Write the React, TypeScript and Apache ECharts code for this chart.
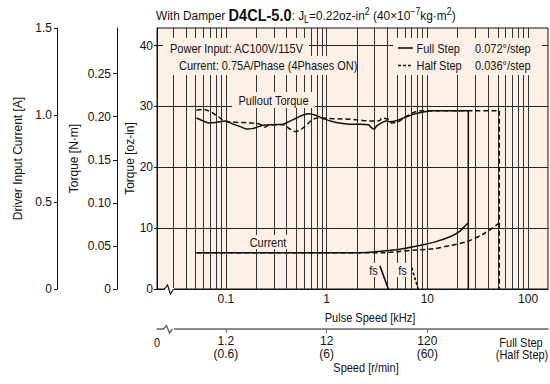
import React, { useEffect, useRef } from 'react';
import * as echarts from 'echarts';

const FONT = "'Liberation Sans', Arial, Helvetica, sans-serif";
const FS = 12; // axis texts
const GFS = 12.5; // annotation texts (condensed with SX)
const SX = 0.88;
const BG = '#fdf1e7';
const INK = '#111';

// ---- axes ----
const X_MIN = 0.0207; // kHz at the left frame (break region)
const X_MAX = 157.7; // kHz at the right frame
const OZIN_MAX = 42.9;
const OZIN_PER_NM = 141.612;
const ozinTicks = [0, 10, 20, 30, 40];
const nmTicks = [0, 0.05, 0.1, 0.15, 0.2, 0.25];
const currentTicks = [0, 0.5, 1.0, 1.5];
const pulseTicks = [0.1, 1, 10, 100];
const speedTickFreq = [0.1, 1, 10];
const speedFullLabels = ['1.2', '12', '120'];
const speedHalfLabels = ['(0.6)', '(6)', '(60)'];
const gridFreqs = [
  0.03, 0.04, 0.05, 0.06, 0.07, 0.08, 0.09,
  0.1, 0.2, 0.3, 0.4, 0.5, 0.6, 0.7, 0.8, 0.9,
  1, 2, 3, 4, 5, 6, 7, 8, 9,
  10, 20, 30, 40, 50, 60, 70, 80, 90,
  100,
];

// ---- pullout torque, full step (solid) [kHz, oz-in] ----
const fullFreq = [0.051, 0.06, 0.069, 0.081, 0.098, 0.118, 0.143, 0.16, 0.187, 0.235, 0.295, 0.371, 0.432, 0.503, 0.586, 0.672, 0.795, 0.926, 1.16, 1.46, 1.7, 2.14, 2.59, 2.8, 2.95, 3.14, 3.52, 3.94, 4.25, 4.77, 5.77, 7.25, 9.11, 11.5, 16.8, 25.5];
const fullTorque = [28.1, 27.6, 27.3, 27.4, 27.6, 27.1, 26.6, 26.3, 26.4, 26.9, 27.0, 27.1, 27.6, 28.1, 28.6, 28.8, 28.5, 28.0, 27.5, 27.2, 27.1, 27.1, 27.0, 26.5, 26.3, 26.8, 27.3, 27.6, 27.5, 27.6, 28.1, 28.7, 29.1, 29.3, 29.3, 29.3];
const fullDropFreq = [25.5, 25.5];
const fullDropTorque = [29.3, 0];

// ---- pullout torque, half step (dashed) ----
const halfFreq = [0.051, 0.06, 0.069, 0.081, 0.098, 0.128, 0.173, 0.218, 0.244, 0.274, 0.371, 0.432, 0.484, 0.543, 0.633, 0.737, 0.858, 1.16, 1.7, 2.31, 2.69, 3.38, 3.52, 4.09, 4.42, 5.14, 6.23, 7.82, 9.83, 16.8, 51.8];
const halfTorque = [29.4, 29.5, 29.2, 28.5, 27.6, 27.4, 27.3, 27.1, 26.6, 27.0, 27.0, 26.3, 25.9, 26.1, 27.0, 27.9, 28.1, 28.0, 27.9, 27.7, 27.6, 27.7, 28.1, 27.9, 27.3, 27.5, 28.4, 29.2, 29.3, 29.3, 29.3];
const halfDropFreq = [51.8, 51.8];
const halfDropTorque = [29.3, 0];

// ---- driver input current [A] ----
const fullCurFreq = [0.051, 1.7, 2.49, 3.65, 5.34, 7.82, 11.5, 16.8, 21.1, 24.2, 25.5];
const fullCur = [0.208, 0.208, 0.21, 0.218, 0.229, 0.247, 0.268, 0.3, 0.333, 0.368, 0.378];
const halfCurFreq = [0.051, 3.65, 5.34, 7.82, 11.5, 16.8, 24.6, 35.9, 48.7, 51.8];
const halfCur = [0.208, 0.208, 0.216, 0.224, 0.231, 0.25, 0.272, 0.316, 0.368, 0.378];

// ---- fs (max starting pulse rate) markers ----
const fsFullFreq = [3.38, 4.1];
const fsFullTorque = [3.8, 0];
const fsHalfFreq = [7.0, 8.1];
const fsHalfTorque = [3.5, 0];

const zip = (a: number[], b: number[]) => a.map((v, i) => [v, b[i]]);

const txt = (x: number, y: number, text: string, extra: any = {}) => ({
  type: 'text',
  z: 50,
  x,
  y,
  scaleX: SX,
  style: {
    x: 0,
    y: 0,
    text,
    fill: INK,
    fontSize: GFS,
    fontFamily: FONT,
    verticalAlign: 'middle',
    align: 'left',
    ...extra,
  },
});

const rect = (x: number, y: number, w: number, h: number, fill = BG) => ({
  type: 'rect',
  z: 40,
  shape: { x, y, width: w, height: h },
  style: { fill },
});

function buildOption(): any {
  const lineBase = { type: 'line', showSymbol: false, symbol: 'none', silent: true, z: 5 };
  const solid = { color: INK, width: 1.5, type: 'solid' };
  const dashed = { color: INK, width: 1.5, type: [5, 3] };
  const labelStyle = { fontSize: FS, fontFamily: FONT, color: INK };
  const fmtPulse = (v: number) => String(Number(Number(v).toPrecision(2)));
  const speedIdx = (v: number) => {
    let best = 0;
    speedTickFreq.forEach((f, i) => {
      if (Math.abs(Math.log10(f) - Math.log10(v)) < Math.abs(Math.log10(speedTickFreq[best]) - Math.log10(v))) best = i;
    });
    return best;
  };

  return {
    animation: false,
    backgroundColor: '#fff',
    grid: {
      left: 157,
      top: 28,
      width: 391,
      height: 261,
      show: true,
      backgroundColor: BG,
      borderColor: INK,
      borderWidth: 1,
      containLabel: false,
      outerBoundsMode: 'none',
    },
    xAxis: [
      {
        type: 'log',
        logBase: 10,
        min: X_MIN,
        max: X_MAX,
        position: 'bottom',
        axisLine: { show: true, onZero: false, lineStyle: { color: INK, width: 1 } },
        axisTick: { show: false },
        splitLine: { show: false },
        minorTick: { show: false },
        minorSplitLine: { show: false },
        axisLabel: { ...labelStyle, customValues: pulseTicks, formatter: fmtPulse, margin: 4 },
      },
      {
        type: 'log',
        logBase: 10,
        min: X_MIN,
        max: X_MAX,
        position: 'bottom',
        offset: 40,
        axisLine: { show: true, onZero: false, lineStyle: { color: '#666', width: 1.5 } },
        axisTick: { show: true, customValues: speedTickFreq, length: 4, lineStyle: { color: '#666', width: 1 } },
        splitLine: { show: false },
        axisLabel: {
          ...labelStyle,
          customValues: speedTickFreq,
          lineHeight: 12.5,
          margin: 6,
          formatter: (v: number) => {
            const i = speedIdx(v);
            return speedFullLabels[i] + '\n' + speedHalfLabels[i];
          },
        },
      },
    ],
    yAxis: [
      {
        type: 'value',
        min: 0,
        max: OZIN_MAX,
        interval: 10,
        position: 'left',
        axisLine: { show: true, onZero: false, lineStyle: { color: INK, width: 1 } },
        axisTick: { show: true, customValues: ozinTicks, length: 3, lineStyle: { color: INK } },
        splitLine: { show: true, lineStyle: { color: '#222', width: 1 } },
        axisLabel: { ...labelStyle, customValues: ozinTicks, margin: 4 },
        name: 'Torque [oz-in]',
        nameLocation: 'middle',
        nameGap: 21,
        nameMoveOverlap: false,
        nameTextStyle: labelStyle,
      },
      {
        type: 'value',
        min: 0,
        max: OZIN_MAX / OZIN_PER_NM,
        interval: 0.05,
        position: 'left',
        offset: 40,
        axisLine: { show: true, onZero: false, lineStyle: { color: INK, width: 1 } },
        axisTick: { show: true, customValues: nmTicks, length: 4, lineStyle: { color: INK } },
        splitLine: { show: false },
        axisLabel: {
          ...labelStyle,
          customValues: nmTicks,
          margin: 6,
          formatter: (v: number) => (v === 0 ? '0' : Number(v).toFixed(2)),
        },
        name: 'Torque [N·m]',
        nameLocation: 'middle',
        nameGap: 37,
        nameMoveOverlap: false,
        nameTextStyle: labelStyle,
      },
      {
        type: 'value',
        min: 0,
        max: 1.5,
        interval: 0.5,
        position: 'left',
        offset: 100,
        axisLine: { show: true, onZero: false, lineStyle: { color: INK, width: 1 } },
        axisTick: { show: true, customValues: currentTicks, length: 3, lineStyle: { color: INK } },
        splitLine: { show: false },
        axisLabel: {
          ...labelStyle,
          customValues: currentTicks,
          margin: 5,
          formatter: (v: number) => (v === 0 ? '0' : Number(v).toFixed(1)),
        },
        name: 'Driver Input Current [A]',
        nameLocation: 'middle',
        nameGap: 33,
        nameMoveOverlap: false,
        nameTextStyle: labelStyle,
      },
    ],
    series: [
      {
        ...lineBase,
        name: 'grid',
        z: 1,
        data: [],
        markLine: {
          silent: true,
          symbol: ['none', 'none'],
          label: { show: false },
          lineStyle: { color: '#333', width: 1, type: 'solid' },
          emphasis: { disabled: true },
          data: gridFreqs.map((f) => ({ xAxis: f })),
        },
      },
      { ...lineBase, name: 'Full Step', data: zip(fullFreq, fullTorque), smooth: 0.35, lineStyle: solid },
      { ...lineBase, name: 'Full drop', data: zip(fullDropFreq, fullDropTorque), lineStyle: solid },
      { ...lineBase, name: 'Half Step', data: zip(halfFreq, halfTorque), smooth: 0.35, lineStyle: dashed },
      { ...lineBase, name: 'Half drop', data: zip(halfDropFreq, halfDropTorque), lineStyle: dashed },
      { ...lineBase, name: 'Current full', yAxisIndex: 2, data: zip(fullCurFreq, fullCur), smooth: 0.3, lineStyle: solid },
      { ...lineBase, name: 'Current half', yAxisIndex: 2, data: zip(halfCurFreq, halfCur), smooth: 0.3, lineStyle: dashed },
      { ...lineBase, name: 'fs full', data: zip(fsFullFreq, fsFullTorque), lineStyle: { ...solid, width: 1.6 } },
      { ...lineBase, name: 'fs half', data: zip(fsHalfFreq, fsHalfTorque), lineStyle: { ...dashed, width: 1.6, type: [3, 2] } },
    ],
    graphic: [
      // title
      {
        type: 'text',
        z: 50,
        x: 156,
        y: 15,
        scaleX: SX,
        style: {
          x: 0,
          y: 0,
          verticalAlign: 'middle',
          text: '{n|With Damper }{b|D4CL-5.0}{n|: J}{sub|L}{n|=0.22oz-in}{sup|2}{n| (40×10}{sup|−7}{n|kg·m}{sup|2}{n|)}',
          rich: {
            n: { fontSize: 13.5, fontFamily: FONT, fill: INK, lineHeight: 18 },
            b: { fontSize: 16.5, fontFamily: FONT, fontWeight: 'bold', fill: INK, lineHeight: 18 },
            sup: { fontSize: 10, fontFamily: FONT, fill: INK, lineHeight: 11, verticalAlign: 'top' },
            sub: { fontSize: 10, fontFamily: FONT, fill: INK, lineHeight: 12, verticalAlign: 'bottom' },
          },
        },
      },
      // left info box
      rect(163, 38, 146, 19),
      rect(172, 56, 185, 19),
      txt(170, 48, 'Power Input: AC100V/115V'),
      txt(179, 65.5, 'Current: 0.75A/Phase (4Phases ON)'),
      // right legend box
      rect(393, 38, 149, 37),
      {
        type: 'line',
        z: 50,
        shape: { x1: 398, y1: 48, x2: 413, y2: 48 },
        style: { stroke: INK, lineWidth: 1.6 },
      },
      {
        type: 'line',
        z: 50,
        shape: { x1: 398, y1: 65.5, x2: 413, y2: 65.5 },
        style: { stroke: INK, lineWidth: 1.6, lineDash: [3, 2] },
      },
      txt(416.5, 48, 'Full Step'),
      txt(475, 48, '0.072°/step'),
      txt(416.5, 65.5, 'Half Step'),
      txt(475, 65.5, '0.036°/step'),
      // curve labels
      rect(232, 92, 83, 16),
      txt(273.5, 100, 'Pullout Torque', { align: 'center' }),
      rect(249, 235, 39, 14),
      txt(268, 242, 'Current', { align: 'center' }),
      rect(368, 263, 11, 14),
      txt(373.5, 270, 'fs', { align: 'center' }),
      rect(397, 263, 11, 14),
      txt(402.5, 270, 'fs', { align: 'center' }),
      // axis breaks
      rect(165, 288, 9, 3, '#fff'),
      {
        type: 'polyline',
        z: 51,
        shape: { points: [[164.5, 289], [167.5, 285], [170.5, 294], [173.5, 289]] },
        style: { stroke: INK, lineWidth: 1.2, fill: null },
      },
      rect(164, 327, 10, 4, '#fff'),
      {
        type: 'polyline',
        z: 51,
        shape: { points: [[163.5, 329], [166.5, 325.5], [169.5, 333], [172.5, 329]] },
        style: { stroke: '#666', lineWidth: 1.4, fill: null },
      },
      // x axis names and extra speed labels
      txt(370, 317, 'Pulse Speed [kHz]', { align: 'center' }),
      txt(157, 342, '0', { align: 'center' }),
      txt(521, 342, 'Full Step', { align: 'center' }),
      txt(522, 354.5, '(Half Step)', { align: 'center' }),
      txt(366, 367, 'Speed [r/min]', { align: 'center' }),
    ],
  };
}

export default function App() {
  const ref = useRef<HTMLDivElement>(null);
  useEffect(() => {
    if (!ref.current) return;
    const chart = echarts.init(ref.current, null, { renderer: 'svg' });
    chart.setOption(buildOption());
    return () => chart.dispose();
  }, []);
  return (
    <div
      ref={ref}
      style={{ position: 'absolute', left: 0, top: 0, width: 550, height: 384, background: '#fff' }}
    />
  );
}
